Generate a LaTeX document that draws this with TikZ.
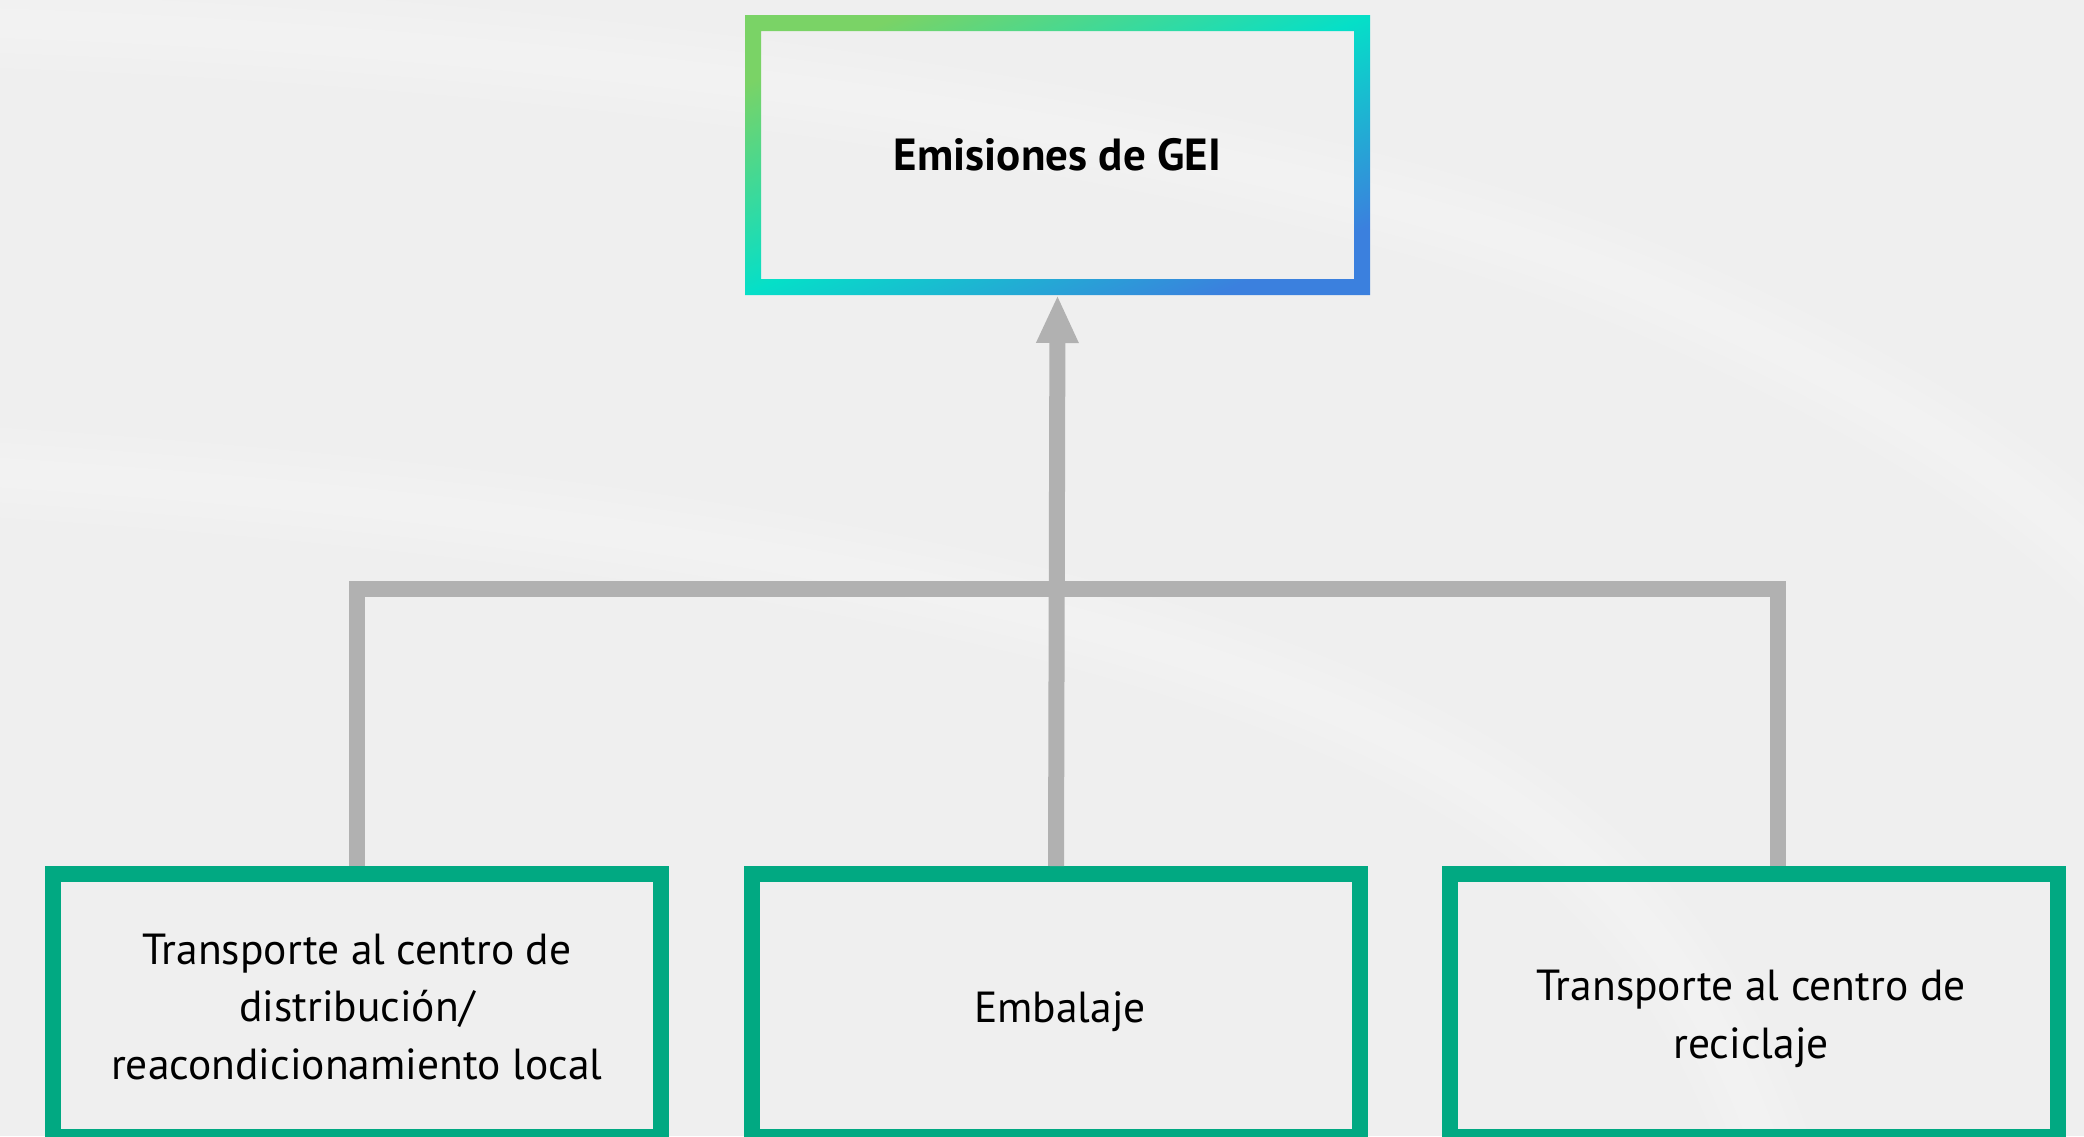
\documentclass[tikz,border=0pt]{standalone}
\usepackage{fontspec}
\setmainfont{PT Sans}
\usetikzlibrary{arrows.meta}
\definecolor{bgc}{HTML}{EFEFEF}
\definecolor{conncol}{HTML}{B1B1B1}
\definecolor{hpegreen}{HTML}{01A982}
\definecolor{gA}{HTML}{7AD366}
\definecolor{gB}{HTML}{05DFC8}
\definecolor{gC}{HTML}{3B80DE}
\pgfdeclarehorizontalshading{geishade}{100bp}{color(0bp)=(gA); color(25bp)=(gA); color(50bp)=(gB); color(75bp)=(gC); color(100bp)=(gC)}
\begin{document}
\begin{tikzpicture}[x=1pt,y=-1pt,
  greenbox/.style={draw=hpegreen, line width=16pt, minimum width=608pt, minimum height=263pt, inner sep=0pt},
  link/.style={draw=conncol, line width=16pt, line join=miter},
  lbl/.style={font=\fontsize{43.5}{57.5}\selectfont, align=center, text=black, inner sep=0pt},
  swoosh/.style={draw=white, line cap=round, opacity=0.08}]
\useasboundingbox (0,0) rectangle (2084,1136);
\fill[bgc] (0,0) rectangle (2084,1136);
% background swooshes
\begin{scope}
\clip (0,0) rectangle (2084,1136);
\foreach \w in {90,60,30}{
  \draw[swoosh, line width=\w pt] (-40,22) .. controls (600,40) and (1300,140) .. (1650,290) .. controls (1880,390) and (2020,480) .. (2120,580);
  \draw[swoosh, line width=\w pt] (-40,470) .. controls (600,510) and (1100,590) .. (1400,740) .. controls (1600,840) and (1700,960) .. (1770,1160);
}
\end{scope}
% nodes
\node[inner sep=0pt, outer sep=0pt, minimum width=625pt, minimum height=280pt] (gei) at (1057.5,155) {};
\node[greenbox] (lb) at (356.8,1005.5) {};
\node[greenbox] (mb) at (1056,1005.5) {};
\node[greenbox] (rb) at (1753.5,1005.5) {};
\coordinate (bar) at (1056,589);
\coordinate (rjoin) at ([xshift=24.5pt]rb.north);
% connectors
\draw[link] (lb.north) |- (bar) -| (rjoin);
\draw[link, -{Triangle[length=48pt,width=39pt]}] (mb.north) -- (gei.south);
% gradient frame
\shade[even odd rule, shading=geishade, shading angle=-65.9]
  (gei.north west) rectangle (gei.south east)
  ([shift={(16pt,-16pt)}]gei.north west) rectangle ([shift={(-16pt,16pt)}]gei.south east);
% texts
\node[lbl, font=\fontsize{45}{50}\selectfont\bfseries] (geit) at (gei.center) {Emisiones de GEI};
\node[lbl] (lbt) at (356.8,1007) {Transporte al centro de\\distribución/\\reacondicionamiento local};
\node[lbl] (mbt) at (1060,1012) {Embalaje};
\node[lbl] (rbt) at (1751,1019) {Transporte al centro de\\reciclaje};
\end{tikzpicture}
\end{document}
